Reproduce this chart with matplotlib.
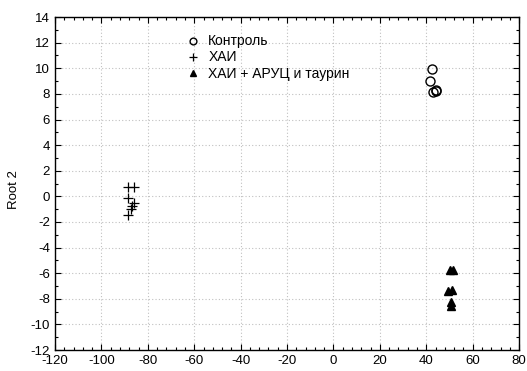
import matplotlib
matplotlib.use("Agg")
import matplotlib.pyplot as plt
from matplotlib.ticker import MultipleLocator

plt.rcParams['font.family'] = ['Liberation Sans', 'DejaVu Sans']
plt.rcParams['axes.unicode_minus'] = False

# Data
control_x = [42.3, 41.4, 43.1, 44.0, 44.4]
control_y = [9.92, 8.98, 8.18, 8.34, 8.26]

hai_x = [-88.4, -85.8, -88.4, -86.0, -86.7, -87.1, -88.4]
hai_y = [0.71, 0.75, -0.13, -0.55, -0.74, -0.97, -1.43]

taur_x = [50.3, 51.6, 49.4, 51.1, 50.7, 50.7]
taur_y = [-5.75, -5.75, -7.4, -7.35, -8.25, -8.6]

labels = ["Контроль", "ХАИ", "ХАИ + АРУЦ и таурин"]

fig = plt.figure(figsize=(5.27, 3.71), dpi=100)
ax = fig.add_axes([0.1044, 0.0566, 0.8806, 0.8974])

ax.plot(control_x, control_y, 'o', mfc='none', mec='black', mew=1.0, ms=6.5, label=labels[0])
ax.plot(hai_x, hai_y, '+', color='black', mew=0.9, ms=7, label=labels[1])
ax.plot(taur_x, taur_y, '^', color='black', ms=5.5, label=labels[2])

ax.set_xlim(-120, 80)
ax.set_ylim(-12, 14)
ax.xaxis.set_major_locator(MultipleLocator(20))
ax.xaxis.set_minor_locator(MultipleLocator(4))
ax.yaxis.set_major_locator(MultipleLocator(2))
ax.yaxis.set_minor_locator(MultipleLocator(1))
ax.tick_params(which='both', direction='in', top=True, right=True, labelsize=9.5, width=0.8)
ax.tick_params(which='major', length=4)
ax.tick_params(which='minor', length=2)
ax.grid(True, which='major', linestyle=(0, (1, 2)), color='#c0c0c0', linewidth=0.8)
for s in ax.spines.values():
    s.set_linewidth(1.0)

ax.set_ylabel("Root 2", fontsize=9.5)
ax.yaxis.set_label_coords(-0.076, 0.483)

leg = ax.legend(loc='upper left', bbox_to_anchor=(0.281, 0.948), frameon=False,
                fontsize=10, markerscale=0.75, handlelength=1.1, handletextpad=0.55,
                labelspacing=0.15, borderaxespad=0, borderpad=0)

fig.savefig("out.png", dpi=100)
